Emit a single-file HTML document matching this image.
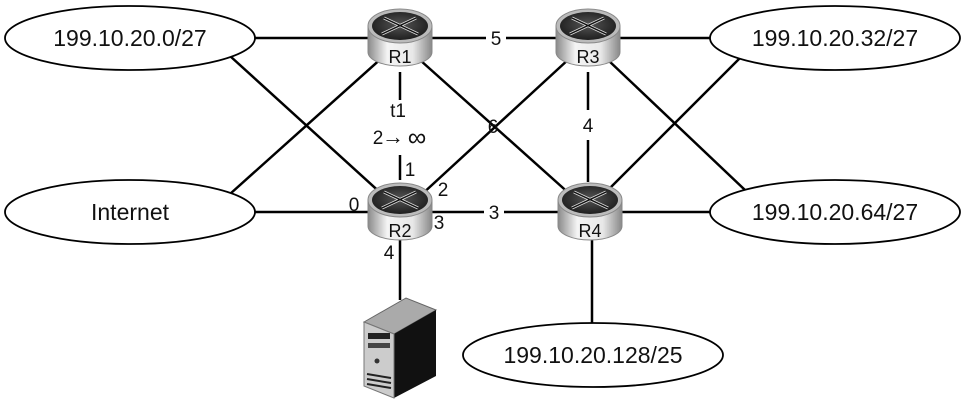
<!DOCTYPE html>
<html><head><meta charset="utf-8"><style>
body{margin:0;background:#fff}
svg{display:block}
text{font-family:"Liberation Sans",sans-serif;fill:#111}
</style></head><body>
<svg width="965" height="405" viewBox="0 0 965 405">
<defs>
<linearGradient id="side" x1="0" x2="1"><stop offset="0" stop-color="#8a8a8a"/><stop offset=".3" stop-color="#f4f4f4"/><stop offset=".7" stop-color="#e8e8e8"/><stop offset="1" stop-color="#888"/></linearGradient>
<radialGradient id="top" cx=".5" cy=".45" r=".6"><stop offset="0" stop-color="#555"/><stop offset="1" stop-color="#1a1a1a"/></radialGradient>
<g id="rt">
<path d="M-32,-12 L-32,14 A32,14 0 0 0 32,14 L32,-12 Z" fill="url(#side)" stroke="#888"/>
<ellipse cx="0" cy="-12" rx="32" ry="17" fill="#bbb" stroke="#888"/>
<ellipse cx="0" cy="-12" rx="28" ry="14" fill="url(#top)"/>
<g stroke="#ddd" stroke-width="3" fill="none"><path d="M-18,-4 L16,-20"/><path d="M-16,-20 L18,-4"/></g>
<g stroke="#111" stroke-width="1.5" fill="none"><path d="M-18,-4 L16,-20"/><path d="M-16,-20 L18,-4"/></g>
</g>
</defs>
<g stroke="#000" stroke-width="2.5" fill="none">
<line x1="255" y1="38" x2="370" y2="38"/>
<line x1="430" y1="38" x2="486" y2="38"/><line x1="506" y1="38" x2="558" y2="38"/>
<line x1="618" y1="38" x2="712" y2="38"/>
<line x1="255" y1="212" x2="370" y2="212"/>
<line x1="430" y1="212" x2="484" y2="212"/><line x1="504" y1="212" x2="558" y2="212"/>
<line x1="618" y1="212" x2="712" y2="212"/>
<line x1="230" y1="56" x2="384" y2="196"/>
<line x1="230" y1="194" x2="384" y2="56"/>
<line x1="420" y1="60" x2="572" y2="196"/>
<line x1="570" y1="58" x2="420" y2="196"/>
<line x1="608" y1="60" x2="745" y2="190"/>
<line x1="740" y1="58" x2="604" y2="194"/>
<line x1="400" y1="72" x2="400" y2="100"/><line x1="400" y1="155" x2="400" y2="180"/>
<line x1="588" y1="72" x2="588" y2="110"/><line x1="588" y1="140" x2="588" y2="182"/>
<line x1="400" y1="240" x2="400" y2="300"/>
<line x1="592" y1="240" x2="592" y2="324"/>
<ellipse cx="130" cy="38" rx="125" ry="32" fill="#fff" stroke-width="1.8"/>
<ellipse cx="130" cy="212" rx="125" ry="32" fill="#fff" stroke-width="1.8"/>
<ellipse cx="835" cy="38" rx="125" ry="32" fill="#fff" stroke-width="1.8"/>
<ellipse cx="835" cy="212" rx="125" ry="32" fill="#fff" stroke-width="1.8"/>
<ellipse cx="593" cy="355" rx="130" ry="32" fill="#fff" stroke-width="1.8"/>
</g>
<use href="#rt" x="400" y="38"/><use href="#rt" x="588" y="38"/>
<use href="#rt" x="400" y="212"/><use href="#rt" x="590" y="212"/>
<g font-size="18" text-anchor="middle">
<text x="400" y="63">R1</text><text x="588" y="63">R3</text>
<text x="400" y="237">R2</text><text x="590" y="237">R4</text>
</g>
<g font-size="19" text-anchor="middle">
<text x="496" y="45">5</text><text x="493" y="133">6</text><text x="588" y="132">4</text>
<text x="494" y="219">3</text>
<text x="398" y="117">t1</text>
<text x="378" y="144">2</text><text x="393" y="144" font-size="22">→</text><text x="417" y="146" font-size="26">∞</text>
<text x="410" y="176">1</text><text x="443" y="196">2</text><text x="439" y="229">3</text>
<text x="354" y="211">0</text><text x="389" y="259">4</text>
</g>
<g font-size="23" text-anchor="middle">
<text x="130" y="46">199.10.20.0/27</text>
<text x="130" y="220">Internet</text>
<text x="835" y="46">199.10.20.32/27</text>
<text x="835" y="220">199.10.20.64/27</text>
<text x="593" y="363">199.10.20.128/25</text>
</g>
<g>
<polygon points="364,322 406,298 436,310 394,334" fill="#aaa" stroke="#666"/>
<polygon points="394,334 436,310 436,376 394,398" fill="#111"/>
<polygon points="364,322 394,334 394,398 364,386" fill="#ccc" stroke="#777"/>
<rect x="368" y="333" width="22" height="6" fill="#222"/>
<rect x="368" y="343" width="22" height="5" fill="#444"/>
<circle cx="377" cy="361" r="2.5" fill="#333"/>
<g stroke="#222" stroke-width="2"><line x1="367" y1="374" x2="391" y2="378"/><line x1="367" y1="379" x2="391" y2="383"/><line x1="367" y1="384" x2="391" y2="388"/></g>
</g>
</svg>
</body></html>
